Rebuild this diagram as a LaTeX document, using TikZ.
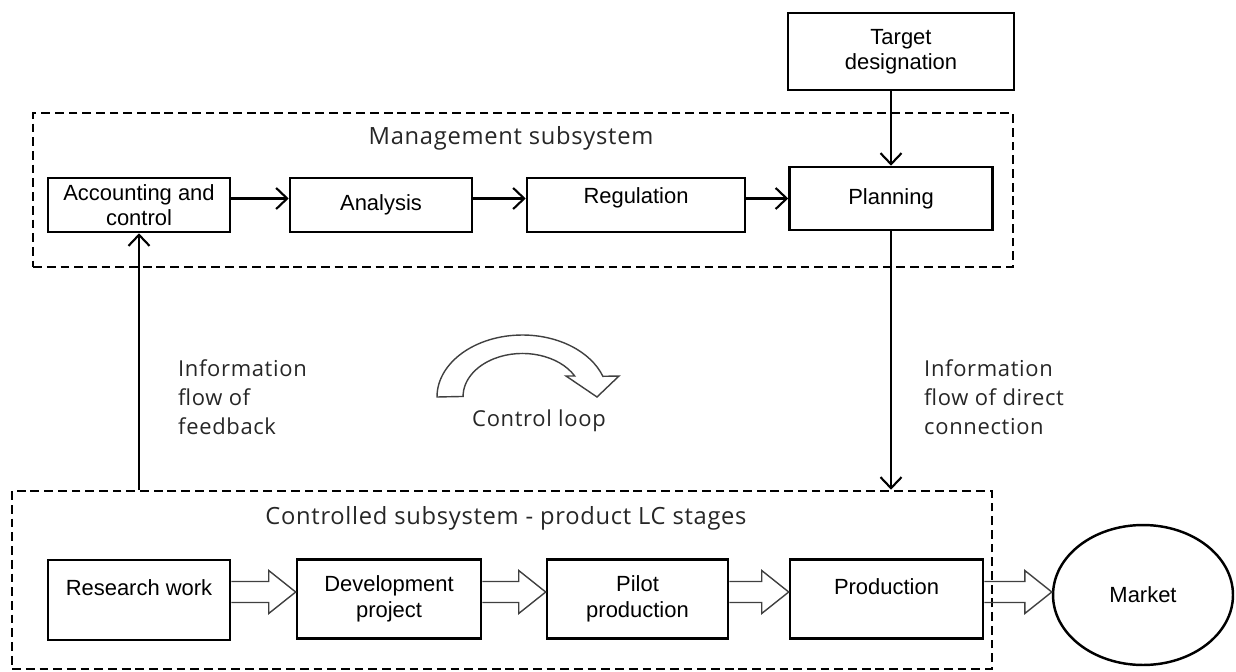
\documentclass[tikz,border=0pt]{standalone}
\usepackage{fontspec}
\setmainfont{Liberation Sans}
\newfontfamily\openfont{Open Sans}[LetterSpace=3.0]
\usetikzlibrary{positioning,arrows.meta,shapes.geometric,calc}

\begin{document}
\begin{tikzpicture}[
    x=0.02cm, y=0.02cm,
    stageBox/.style={draw=black, line width=1.5pt, align=center, inner sep=2pt, font=\fontsize{12.5}{14.5}\selectfont},
    subBox/.style={draw=black, line width=1.5pt, dash pattern=on 5pt off 2.8pt, inner sep=0pt},
    titleText/.style={font=\openfont\fontsize{13.5}{16}\selectfont, text=black!85},
    flowText/.style={font=\openfont\fontsize{12.5}{16.4}\selectfont, text=black!85, align=left, anchor=west},
    thinArrow/.style={line width=1.2pt, -{Straight Barb[length=2.2mm, width=4.2mm, line width=1.2pt]}},
    blockArrow/.style={draw=black!75, line width=0.8pt, line join=miter}
]
    \useasboundingbox (0,0) rectangle (1236,-672);

    % Sottosistemi tratteggiati
    \node[subBox, minimum width=19.6cm, minimum height=3.08cm] (mgmt) at (523,-190) {};
    \node[subBox, minimum width=19.6cm, minimum height=3.56cm] (ctrl) at (502,-580) {};
    \node[titleText] (mgmtT) at (511,-138) {Management subsystem};
    \node[titleText] (ctrlT) at (506,-518) {Controlled subsystem - product LC stages};

    % Blocchi di gestione
    \node[stageBox, minimum width=4.52cm, minimum height=1.54cm] (tgt) at (901,-51.5) {Target\\designation};
    \node[stageBox, minimum width=3.64cm, minimum height=1.08cm] (acc) at (139,-205) {Accounting and\\control};
    \node[stageBox, minimum width=3.64cm, minimum height=1.08cm] (ana) at (381,-205) {Analysis};
    \node[stageBox, minimum width=4.36cm, minimum height=1.08cm] (reg) at (636,-205) {Regulation\\[-4pt]~};
    \node[stageBox, minimum width=4.06cm, minimum height=1.26cm] (pla) at (891,-198.5) {Planning};

    % Fasi del ciclo di vita
    \node[stageBox, minimum width=3.64cm, minimum height=1.6cm] (res) at (139,-600) {Research work\\~};
    \node[stageBox, minimum width=3.68cm, minimum height=1.58cm] (dev) at (389,-599) {Development\\project};
    \node[stageBox, minimum width=3.62cm, minimum height=1.58cm] (pil) at (637.5,-599) {Pilot\\production};
    \node[stageBox, minimum width=3.86cm, minimum height=1.58cm] (pro) at (886.5,-599) {Production\\~};
    \node[ellipse, draw=black, line width=1.4pt, inner sep=0pt, minimum width=3.6cm, minimum height=2.8cm, font=\fontsize{12.5}{14.5}\selectfont] (mkt) at (1143,-595) {Market};

    % Etichette dei flussi
    \node[flowText] (fbT) at (172,-397) {Information\\flow of\\feedback};
    \node[flowText] (dirT) at (918,-397) {Information\\flow of direct\\connection};
    \node[titleText, font=\openfont\fontsize{12.5}{15}\selectfont] (loopT) at (539,-421) {Control loop};

    % Frecce sottili
    \draw[thinArrow] (acc.east |- pla) -- (ana.west |- pla);
    \draw[thinArrow] (ana.east |- pla) -- (reg.west |- pla);
    \draw[thinArrow] (reg.east |- pla) -- (pla.west);
    \draw[thinArrow] (tgt.south -| pla.north) -- (pla.north);
    \draw[thinArrow] (pla.south) -- (pla.south |- ctrl.north);
    \draw[thinArrow] (acc.south |- ctrl.north) -- (acc.south);

    % Frecce a blocco
    \coordinate (flow) at (0,-592);
    \foreach \a/\b in {res/dev, dev/pil, pil/pro, pro/mkt}
        \draw[blockArrow] ($(\a.east |- flow)+(0,10.5)$) -- ($(\b.west |- flow)+(-27,10.5)$) -- ++(0,11)
            -- (\b.west |- flow) -- ($(\b.west |- flow)+(-27,-21.5)$) -- ++(0,11) -- ($(\a.east |- flow)+(0,-10.5)$);

    % Anello di controllo
    \draw[blockArrow, fill=white] (437,-397) arc[start angle=180, end angle=19.5, x radius=1.708cm, y radius=1.24cm]
        -- (619,-376) -- (597,-397) -- (566,-376) -- (574.7,-376)
        arc[start angle=28.4, end angle=180, x radius=1.188cm, y radius=0.86cm] -- cycle;
\end{tikzpicture}
\end{document}
